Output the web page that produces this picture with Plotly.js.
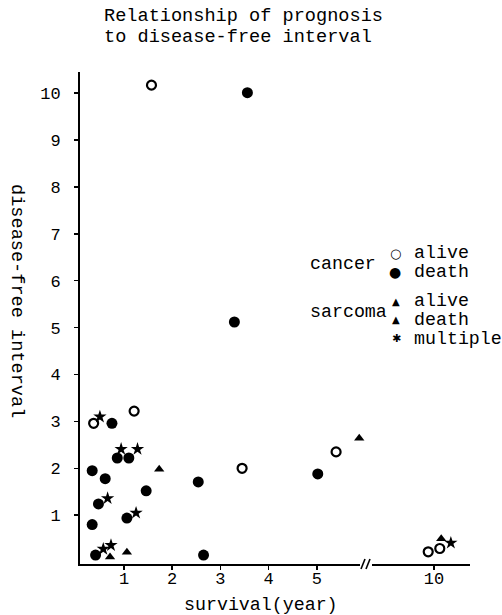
<!DOCTYPE html>
<html>
<head>
<meta charset="utf-8">
<script src="https://cdn.plot.ly/plotly-3.0.1.min.js"></script>
<style>html,body{margin:0;padding:0;background:#fff;}#chart{width:502px;height:615px;}</style>
</head>
<body>
<div id="chart"></div>
<script>
// ---- data (survival in years, disease-free interval) ----
const cancerAliveX = [0.37, 1.21, 1.57, 3.45, 5.40, 9.88, 10.12];
const cancerAliveY = [2.96, 3.22, 10.17, 2.00, 2.35, 0.22, 0.29];

const cancerDeathX = [0.75, 0.86, 1.10, 0.34, 0.61, 1.46, 0.47, 0.34, 1.06, 0.41, 2.54, 2.65, 5.02, 3.29, 3.56];
const cancerDeathY = [2.96, 2.22, 2.22, 1.95, 1.78, 1.52, 1.24, 0.80, 0.94, 0.15, 1.71, 0.15, 1.88, 5.12, 10.01];

const sarcomaAliveX = [5.88, 10.15];
const sarcomaAliveY = [2.64, 0.50];

const sarcomaDeathX = [1.73, 0.71, 1.06];
const sarcomaDeathY = [1.98, 0.11, 0.21];

const multipleX = [0.50, 0.94, 1.28, 0.66, 1.25, 0.57, 0.73, 10.35];
const multipleY = [3.10, 2.41, 2.41, 1.36, 1.05, 0.28, 0.36, 0.41];

const xTicksLeft = [1, 2, 3, 4, 5];
const xTicksRight = [10];
const yTicks = [1, 2, 3, 4, 5, 6, 7, 8, 9, 10];
const breakAt = 7; // x axis is broken between 6 and 9

const FONT = '"Liberation Mono", "DejaVu Sans Mono", monospace';

// ---- build traces, splitting each series across the broken x axis ----
function split(xs, ys, name, marker) {
  const lx = [], ly = [], rx = [], ry = [];
  xs.forEach((x, i) => { if (x < breakAt) { lx.push(x); ly.push(ys[i]); } else { rx.push(x); ry.push(ys[i]); } });
  const base = {type: 'scatter', mode: 'markers', name: name, marker: marker, cliponaxis: false, hoverinfo: 'x+y+name', showlegend: false};
  return [
    Object.assign({}, base, {x: lx, y: ly, xaxis: 'x', yaxis: 'y'}),
    Object.assign({}, base, {x: rx, y: ry, xaxis: 'x2', yaxis: 'y'})
  ];
}

const traces = [].concat(
  split(cancerAliveX, cancerAliveY, 'cancer alive', {symbol: 'circle-open', size: 9, color: '#000', line: {width: 2.2, color: '#000'}}),
  split(cancerDeathX, cancerDeathY, 'cancer death', {symbol: 'circle', size: 11, color: '#000'}),
  split(sarcomaAliveX, sarcomaAliveY, 'sarcoma alive', {symbol: 'triangle-up', size: 9, color: '#000'}),
  split(sarcomaDeathX, sarcomaDeathY, 'sarcoma death', {symbol: 'triangle-up', size: 9, color: '#000'}),
  split(multipleX, multipleY, 'multiple', {symbol: 'star', size: 10, color: '#000'})
);

// pixel -> paper helpers for decorations (plot area: left 80, top 72, width 390, height 492)
const PX = px => (px - 80) / 390;
const PY = py => (564 - py) / 492;

function txt(text, px, py, opts) {
  return Object.assign({
    text: text, xref: 'paper', yref: 'paper', x: PX(px), y: PY(py),
    xanchor: 'left', yanchor: 'middle', showarrow: false,
    font: {family: FONT, size: 18.3, color: '#000'}
  }, opts || {});
}

const annotations = [
  txt('Relationship of prognosis', 102, 17, {font: {family: FONT, size: 18.6, color: '#000'}}),
  txt('to disease-free interval', 102, 37.5, {font: {family: FONT, size: 18.6, color: '#000'}}),
  txt('survival(year)', 261, 605, {xanchor: 'center'}),
  txt('disease-free interval', 17, 301, {xanchor: 'center', textangle: 90, font: {family: FONT, size: 18.6, color: '#000'}}),
  // manual legend
  txt('cancer', 308, 264),
  txt('○', 395, 253, {xanchor: 'center', font: {family: 'DejaVu Sans', size: 13, color: '#000'}}),
  txt('alive', 412, 253),
  txt('●', 395, 272, {xanchor: 'center', font: {family: 'DejaVu Sans', size: 14, color: '#000'}}),
  txt('death', 412, 272),
  txt('sarcoma', 308, 312),
  txt('▲', 396, 301, {xanchor: 'center', font: {family: 'DejaVu Sans', size: 10, color: '#000'}}),
  txt('alive', 412, 300.5),
  txt('▲', 396, 319.5, {xanchor: 'center', font: {family: 'DejaVu Sans', size: 10, color: '#000'}}),
  txt('death', 412, 319.5),
  txt('✱', 396, 338.5, {xanchor: 'center', font: {family: 'DejaVu Sans', size: 11, color: '#000'}}),
  txt('multiple', 412, 338.5)
];

const shapes = [
  {type: 'line', xref: 'paper', yref: 'paper', x0: PX(361), y0: PY(569), x1: PX(365), y1: PY(559), line: {color: '#000', width: 1.6}},
  {type: 'line', xref: 'paper', yref: 'paper', x0: PX(366), y0: PY(569), x1: PX(370), y1: PY(559), line: {color: '#000', width: 1.6}}
];

const axisCommon = {
  showgrid: false, zeroline: false, showline: true, linecolor: '#000', linewidth: 2,
  ticks: 'outside', ticklen: 4, tickwidth: 1.5, tickcolor: '#000', tickmode: 'array',
  tickfont: {family: FONT, size: 17, color: '#000'}, fixedrange: true
};

const layout = {
  width: 502, height: 615,
  margin: {l: 80, r: 32, t: 72, b: 51},
  paper_bgcolor: '#fff', plot_bgcolor: '#fff',
  showlegend: false,
  xaxis: Object.assign({}, axisCommon, {domain: [0, PX(360)], range: [0.087, 5.896], tickvals: xTicksLeft, ticktext: xTicksLeft.map(String), anchor: 'y', ticklabelstandoff: -6}),
  xaxis2: Object.assign({}, axisCommon, {domain: [PX(372), 1], range: [8.714, 10.747], tickvals: xTicksRight, ticktext: xTicksRight.map(String), anchor: 'y', ticklabelstandoff: -6}),
  yaxis: Object.assign({}, axisCommon, {range: [-0.04, 10.45], tickvals: yTicks, ticktext: yTicks.map(String), anchor: 'x', ticklabelstandoff: 10}),
  annotations: annotations,
  shapes: shapes
};

Plotly.newPlot('chart', traces, layout, {displayModeBar: false, staticPlot: true});
</script>
</body>
</html>
